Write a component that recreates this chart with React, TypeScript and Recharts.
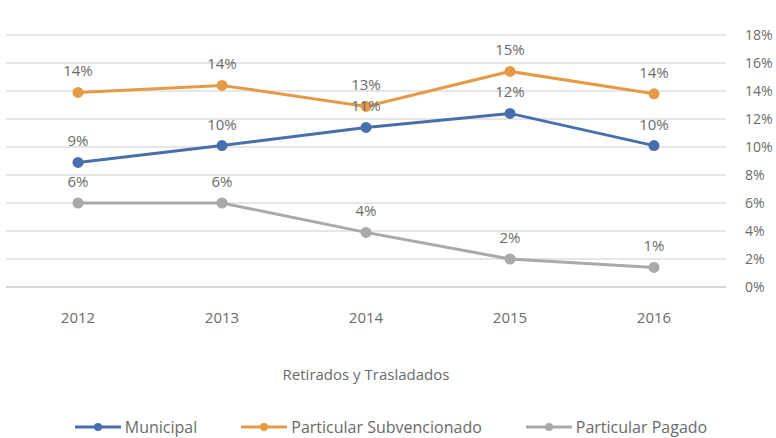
import React from 'react';
import {
  LineChart,
  Line,
  XAxis,
  YAxis,
  CartesianGrid,
  Legend,
  LabelList,
} from 'recharts';

const years = ['2012', '2013', '2014', '2015', '2016'];
const municipal = [8.9, 10.1, 11.4, 12.4, 10.1];
const subvencionado = [13.9, 14.4, 12.9, 15.4, 13.8];
const pagado = [6.0, 6.0, 3.9, 2.0, 1.4];
const yTicks = [0, 2, 4, 6, 8, 10, 12, 14, 16, 18];

const series = [
  { key: 'municipal', name: 'Municipal', color: '#4670ad' },
  { key: 'subvencionado', name: 'Particular Subvencionado', color: '#e59b45' },
  { key: 'pagado', name: 'Particular Pagado', color: '#a9a9a9' },
];

const data = years.map((y, i) => ({
  year: y,
  municipal: municipal[i],
  subvencionado: subvencionado[i],
  pagado: pagado[i],
}));

const FONT = '"Open Sans", "Liberation Sans", sans-serif';
const TEXT = '#6b6b6b';

const pct = (v: any) => `${Math.round(Number(v))}%`;

// fixed order, same as the series list
const LegendContent = () => (
  <div style={{ display: 'flex', justifyContent: 'center', paddingTop: 18, fontFamily: FONT, fontSize: 16, color: TEXT }}>
    {series.map((s) => (
      <div key={s.key} style={{ display: 'flex', alignItems: 'center', margin: '0 22px' }}>
        <svg width={46} height={12} style={{ marginRight: 4 }}>
          <line x1={0} y1={6} x2={46} y2={6} stroke={s.color} strokeWidth={3} />
          <circle cx={23} cy={6} r={4} fill={s.color} />
        </svg>
        <span>{s.name}</span>
      </div>
    ))}
  </div>
);

export default function App() {
  return (
    <div style={{ position: 'absolute', left: 0, top: 0, background: '#fff' }}>
      <LineChart width={776} height={438} data={data} margin={{ top: 35, right: 0, left: 6, bottom: 0 }}>
        <CartesianGrid horizontal vertical={false} stroke="#e6e6e6" strokeWidth={2} />
        <XAxis
          dataKey="year"
          padding={{ left: 72, right: 72 }}
          height={111}
          tickLine={false}
          tickSize={0}
          tickMargin={25}
          axisLine={{ stroke: '#d9d9d9', strokeWidth: 2 }}
          tick={{ fill: TEXT, fontSize: 15, fontFamily: FONT }}
          label={{ value: 'Retirados y Trasladados', position: 'insideBottom', offset: 18, fill: TEXT, fontSize: 15, fontFamily: FONT }}
        />
        <YAxis
          orientation="right"
          domain={[0, 18]}
          ticks={yTicks}
          width={50}
          axisLine={false}
          tickLine={false}
          tickSize={0}
          tickMargin={19}
          tickFormatter={(v) => `${v}%`}
          tick={{ fill: TEXT, fontSize: 14, fontFamily: FONT, textAnchor: 'start' }}
        />
        <Legend verticalAlign="bottom" height={40} content={<LegendContent />} />
        {series.map((s) => (
          <Line
            key={s.key}
            dataKey={s.key}
            name={s.name}
            stroke={s.color}
            strokeWidth={3}
            dot={{ r: 4, fill: s.color, stroke: s.color }}
            isAnimationActive={false}
          >
            <LabelList dataKey={s.key} position="top" offset={16} formatter={pct} fill={TEXT} fontSize={15} fontFamily={FONT} />
          </Line>
        ))}
      </LineChart>
    </div>
  );
}
